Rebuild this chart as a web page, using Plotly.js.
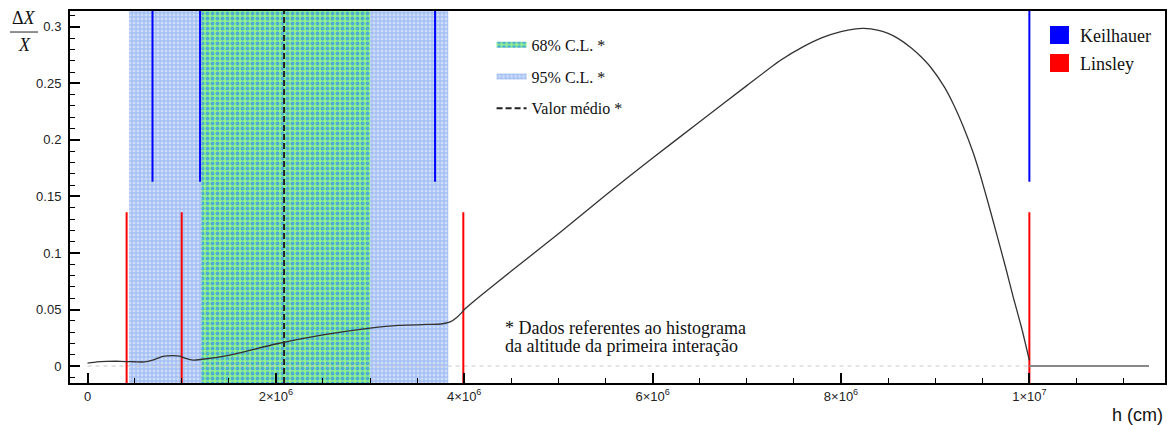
<!DOCTYPE html>
<html>
<head>
<meta charset="utf-8">
<script src="https://cdn.plot.ly/plotly-3.0.1.min.js"></script>
<style>html,body{margin:0;padding:0;background:#fff;} #chart{width:1168px;height:425px;}</style>
</head>
<body>
<div id="chart"></div>
<script>
// Curve: relative error ΔX/X vs altitude h (cm)
const curveH = [0, 0.1e6, 0.2e6, 0.35e6, 0.5e6, 0.6e6, 0.7e6, 0.8e6, 0.9e6, 0.98e6, 1.05e6, 1.12e6, 1.2e6, 1.5e6, 2.0e6, 2.5e6, 3.0e6, 3.3e6, 3.6e6, 3.75e6, 3.85e6, 3.92e6, 3.97e6, 4.0e6, 4.17e6, 4.5e6, 5.0e6, 5.5e6, 6.0e6, 6.5e6, 7.0e6, 7.35e6, 7.6e6, 7.8e6, 8.0e6, 8.12e6, 8.24e6, 8.4e6, 8.5e6, 8.6e6, 8.75e6, 8.85e6, 8.95e6, 9.1e6, 9.2e6, 9.3e6, 9.4e6, 9.48e6, 9.57e6, 9.66e6, 9.75e6, 9.83e6, 9.92e6, 10.0e6];
const curveDX = [0.0025, 0.0037, 0.0041, 0.0042, 0.0038, 0.0036, 0.0055, 0.0085, 0.0092, 0.0088, 0.0065, 0.0053, 0.0058, 0.0095, 0.0195, 0.0275, 0.0335, 0.036, 0.0368, 0.0372, 0.039, 0.043, 0.047, 0.050, 0.062, 0.084, 0.117, 0.151, 0.184, 0.216, 0.248, 0.270, 0.2825, 0.2905, 0.2958, 0.2978, 0.2986, 0.2969, 0.2942, 0.2900, 0.2811, 0.2735, 0.2645, 0.2465, 0.2305, 0.2115, 0.1895, 0.1685, 0.1420, 0.1145, 0.0865, 0.0605, 0.0330, 0.005];
const tailH = [10.0e6, 11.27e6];
const tailDX = [0, 0];
const zeroH = [0, 10.0e6];
const zeroDX = [0, 0];

// Confidence intervals and mean of first-interaction altitude
const cl68 = [1.21e6, 3.0e6];
const cl95 = [0.44e6, 3.83e6];
const meanH = 2.087e6;

// Atmosphere model boundaries
const keilhauerH = [0.69e6, 1.195e6, 3.69e6, 10.0e6];
const keilhauerRange = [0.163, 0.314];
const linsleyH = [0.415e6, 1.0e6, 3.99e6, 10.0e6];
const linsleyRange = [-0.015, 0.136];

// Axis
const yRange = [-0.015, 0.314];
const xRange = [-0.186e6, 11.44e6];
const xTickVals = [0, 2e6, 4e6, 6e6, 8e6, 10e6];
const xTickText = ['0', '2×10<sup>6</sup>', '4×10<sup>6</sup>', '6×10<sup>6</sup>', '8×10<sup>6</sup>', '1×10<sup>7</sup>'];

function vlines(xs, r) {
  const x = [], y = [];
  xs.forEach(v => { x.push(v, v, null); y.push(r[0], r[1], null); });
  return {x, y};
}
function band(b) {
  return {x: [b[0], b[1], b[1], b[0], b[0]], y: [yRange[0], yRange[0], yRange[1], yRange[1], yRange[0]]};
}
const b95 = band(cl95), b68 = band(cl68);
const kl = vlines(keilhauerH, keilhauerRange);
const ll = vlines(linsleyH, linsleyRange);

const serif = 'Liberation Serif, Times New Roman, serif';
const sans = 'Liberation Sans, Arial, Helvetica, sans-serif';

const traces = [
  {x: b95.x, y: b95.y, type: 'scatter', mode: 'none', fill: 'toself', name: '95% C.L. *',
   fillcolor: '#cddcf8', fillpattern: {shape: '+', bgcolor: '#cddcf8', fgcolor: '#8cadf0', size: 4, solidity: 0.35},
   legendgroup: 'b', legendrank: 2, hoverinfo: 'skip'},
  {x: b68.x, y: b68.y, type: 'scatter', mode: 'none', fill: 'toself', name: '68% C.L. *',
   fillcolor: '#90f090', fillpattern: {shape: '.', bgcolor: '#90f090', fgcolor: '#4eaed0', size: 5, solidity: 0.45},
   legendgroup: 'a', legendrank: 1, hoverinfo: 'skip'},
  {x: zeroH, y: zeroDX, type: 'scatter', mode: 'lines', line: {color: '#c8c8c8', width: 1, dash: '4px,4px'}, showlegend: false},
  {x: [meanH, meanH], y: yRange, type: 'scatter', mode: 'lines', name: 'Valor médio *',
   line: {color: '#222', width: 2, dash: '6px,3px'}, legendgroup: 'c', legendrank: 3},
  {x: kl.x, y: kl.y, type: 'scatter', mode: 'lines', line: {color: '#0000ff', width: 2}, showlegend: false},
  {x: ll.x, y: ll.y, type: 'scatter', mode: 'lines', line: {color: '#ff0000', width: 2}, showlegend: false},
  {x: curveH, y: curveDX, type: 'scatter', mode: 'lines', line: {color: '#333', width: 1.3, shape: 'spline', smoothing: 0.5}, showlegend: false},
  {x: tailH, y: tailDX, type: 'scatter', mode: 'lines', line: {color: '#888', width: 2}, showlegend: false}
];

const layout = {
  width: 1168, height: 425,
  margin: {l: 70, r: 3, t: 11, b: 42},
  paper_bgcolor: '#fff', plot_bgcolor: '#fff',
  showlegend: true,
  legend: {x: 0.385, y: 0.955, xanchor: 'left', yanchor: 'top', bgcolor: 'rgba(0,0,0,0)',
           font: {family: serif, size: 16, color: '#111'}, traceorder: 'grouped', tracegroupgap: 8, itemwidth: 30},
  xaxis: {range: xRange, showgrid: false, zeroline: false, showline: true, linecolor: '#000', linewidth: 2, mirror: true,
          ticks: 'inside', ticklen: 10, tickwidth: 2, tickcolor: '#000', tickmode: 'array', tickvals: xTickVals, ticktext: xTickText,
          tickfont: {family: sans, size: 13, color: '#222'},
          minor: {ticks: 'inside', ticklen: 5, tickwidth: 1, tickcolor: '#000', dtick: 5e5, tick0: 0, showgrid: false}},
  yaxis: {range: yRange, showgrid: false, zeroline: false, showline: true, linecolor: '#000', linewidth: 2, mirror: true,
          ticks: 'inside', ticklen: 10, tickwidth: 2, tickcolor: '#000', dtick: 0.05, tick0: 0,
          tickfont: {family: sans, size: 13, color: '#222'}, ticklabelstandoff: 4,
          minor: {ticks: 'inside', ticklen: 5, tickwidth: 1, tickcolor: '#000', dtick: 0.01, tick0: 0, showgrid: false}},
  shapes: [
    {type: 'rect', xref: 'paper', yref: 'paper', x0: 0.895, x1: 0.9123, y0: 0.9113, y1: 0.9597, fillcolor: '#0000ff', line: {width: 0}},
    {type: 'rect', xref: 'paper', yref: 'paper', x0: 0.895, x1: 0.9123, y0: 0.836, y1: 0.8844, fillcolor: '#ff0000', line: {width: 0}},
    {type: 'line', xref: 'paper', yref: 'paper', x0: -0.0548, x1: -0.0292, y0: 0.9435, y1: 0.9435, line: {color: '#222', width: 1}}
  ],
  annotations: [
    {xref: 'paper', yref: 'paper', x: 0.9205, y: 0.933, xanchor: 'left', yanchor: 'middle', showarrow: false, text: 'Keilhauer', font: {family: serif, size: 18, color: '#111'}},
    {xref: 'paper', yref: 'paper', x: 0.9205, y: 0.858, xanchor: 'left', yanchor: 'middle', showarrow: false, text: 'Linsley', font: {family: serif, size: 18, color: '#111'}},
    {xref: 'paper', yref: 'paper', x: 0.3955, y: 0.148, xanchor: 'left', yanchor: 'middle', align: 'left', showarrow: false,
     text: '* Dados referentes ao histograma', font: {family: serif, size: 18, color: '#111'}},
    {xref: 'paper', yref: 'paper', x: 0.3955, y: 0.0995, xanchor: 'left', yanchor: 'middle', align: 'left', showarrow: false,
     text: 'da altitude da primeira interação', font: {family: serif, size: 18, color: '#111'}},
    {xref: 'paper', yref: 'paper', x: -0.042, y: 0.948, xanchor: 'center', yanchor: 'bottom', showarrow: false,
     text: 'Δ<i>X</i>', font: {family: serif, size: 18, color: '#111'}},
    {xref: 'paper', yref: 'paper', x: -0.042, y: 0.94, xanchor: 'center', yanchor: 'top', showarrow: false,
     text: '<i>X</i>', font: {family: serif, size: 18, color: '#111'}},
    {xref: 'paper', yref: 'paper', x: 1.0, y: -0.086, xanchor: 'right', yanchor: 'middle', showarrow: false,
     text: 'h (cm)', font: {family: sans, size: 18, color: '#111'}}
  ]
};

Plotly.newPlot('chart', traces, layout, {displayModeBar: false, staticPlot: true});
</script>
</body>
</html>
